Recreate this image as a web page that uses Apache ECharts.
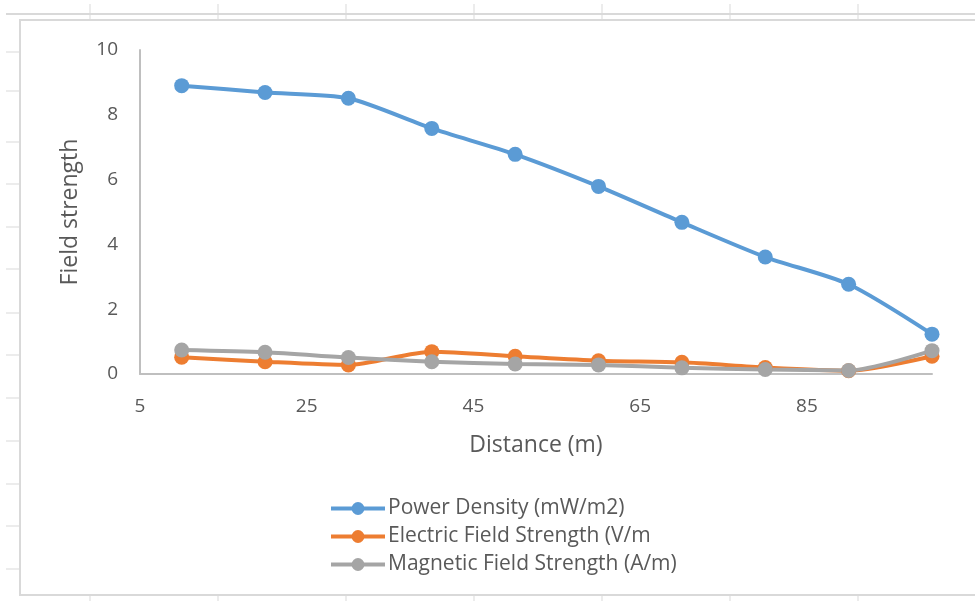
<!DOCTYPE html>
<html>
<head>
<meta charset="utf-8">
<script src="https://cdn.jsdelivr.net/npm/echarts@6/dist/echarts.min.js"></script>
<style>html,body{margin:0;padding:0;background:#fff}#c{width:975px;height:601px}</style>
</head>
<body>
<div id="c"></div>
<script>
const distance = [10, 20, 30, 40, 50, 60, 70, 80, 90, 100];
const powerDensity = [8.9, 8.69, 8.51, 7.58, 6.78, 5.79, 4.68, 3.61, 2.77, 1.23];
const electricField = [0.52, 0.38, 0.28, 0.69, 0.55, 0.41, 0.36, 0.2, 0.1, 0.55];
const magneticField = [0.74, 0.67, 0.51, 0.38, 0.31, 0.28, 0.19, 0.14, 0.11, 0.72];
const xTickLabels = [5, 25, 45, 65, 85];
const seriesNames = ['Power Density (mW/m2)', 'Electric Field Strength (V/m', 'Magnetic Field Strength (A/m)'];

const FONT = 'Open Sans';
const TXT = '#595959';
const SHEET = '#d9d9d9';

const pair = (xs, ys) => xs.map((x, i) => [x, ys[i]]);

// spreadsheet decoration
const graphics = [];
graphics.push({type: 'line', shape: {x1: 6, y1: 14, x2: 975, y2: 14}, style: {stroke: SHEET, lineWidth: 2}, silent: true});
[90, 218, 346, 474, 602, 730, 858].forEach(x => {
  graphics.push({type: 'line', shape: {x1: x, y1: 4, x2: x, y2: 19}, style: {stroke: SHEET, lineWidth: 1}, silent: true});
  graphics.push({type: 'line', shape: {x1: x, y1: 596, x2: x, y2: 601}, style: {stroke: SHEET, lineWidth: 1}, silent: true});
});
[52, 91, 142, 184, 227, 269, 313, 355, 398, 441, 484, 526, 569].forEach(y => {
  graphics.push({type: 'line', shape: {x1: 6, y1: y, x2: 20, y2: y}, style: {stroke: SHEET, lineWidth: 1}, silent: true});
});
graphics.push({type: 'polyline', shape: {points: [[980, 20], [20, 20], [20, 595], [980, 595]]}, style: {stroke: SHEET, lineWidth: 2, fill: null}, silent: true});

const mk = (name, data, color) => ({
  name, type: 'line', data, smooth: 0.25,
  symbol: 'circle', symbolSize: 15,
  lineStyle: {color, width: 4},
  itemStyle: {color},
  emphasis: {disabled: true}
});

const chart = echarts.init(document.getElementById('c'), null, {renderer: 'canvas'});
chart.setOption({
  animation: false,
  backgroundColor: '#fff',
  textStyle: {fontFamily: FONT},
  graphic: graphics,
  grid: {left: 140, right: 43, top: 50, bottom: 227},
  legend: {
    orient: 'vertical', left: 324, top: 493,
    itemWidth: 54, itemHeight: 16, itemGap: 7,
    lineStyle: {width: 4},
    textStyle: {color: TXT, fontSize: 21, fontFamily: FONT, padding: [0, 0, 0, -2]},
    data: seriesNames
  },
  xAxis: {
    type: 'value', min: 5, max: 100,
    name: 'Distance (m)', nameLocation: 'middle', nameGap: 60,
    nameTextStyle: {color: TXT, fontSize: 23, fontFamily: FONT},
    axisLine: {show: true, lineStyle: {color: '#bfbfbf', width: 2}},
    axisTick: {show: false},
    splitLine: {show: false},
    axisLabel: {color: TXT, fontSize: 19, fontFamily: FONT, margin: 23, customValues: xTickLabels}
  },
  yAxis: {
    type: 'value', min: 0, max: 10, interval: 2,
    name: 'Field strength', nameLocation: 'middle', nameGap: 58, nameRotate: 90,
    nameTextStyle: {color: TXT, fontSize: 23, fontFamily: FONT},
    axisLine: {show: true, lineStyle: {color: '#bfbfbf', width: 2}},
    axisTick: {show: false},
    splitLine: {show: false},
    axisLabel: {color: TXT, fontSize: 19, fontFamily: FONT, margin: 22}
  },
  series: [
    mk(seriesNames[0], pair(distance, powerDensity), '#5b9bd5'),
    mk(seriesNames[1], pair(distance, electricField), '#ed7d31'),
    mk(seriesNames[2], pair(distance, magneticField), '#a5a5a5')
  ]
});
</script>
</body>
</html>
